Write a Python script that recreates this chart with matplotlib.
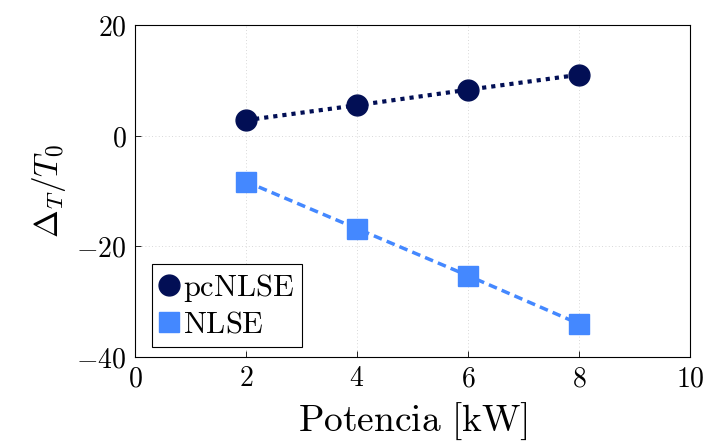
import matplotlib.pyplot as plt
import numpy as np

plt.rcParams['mathtext.fontset'] = 'cm'
plt.rcParams['font.family'] = 'serif'
plt.rcParams['font.serif'] = ['DejaVu Serif']

# datos
potencia = [2, 4, 6, 8]
pcnlse = [2.8, 5.5, 8.3, 11.0]
nlse = [-8.3, -16.8, -25.3, -34.0]

xticks = [0, 2, 4, 6, 8, 10]
yticks = [-40, -20, 0, 20]

fig = plt.figure(figsize=(7.12, 4.45), dpi=100)
ax = fig.add_axes([135 / 712, 1 - 357 / 445, 555 / 712, 332 / 445])

ax.plot(potencia, pcnlse, color='#020f55', linestyle=(0, (1, 1.2)), linewidth=3,
        marker='o', markersize=15, label='pcNLSE')
ax.plot(potencia, nlse, color='#4488ff', linestyle=(0, (2.5, 1.5)), linewidth=2.5,
        marker='s', markersize=14, label='NLSE')

ax.set_xlim(0, 10)
ax.set_ylim(-40, 20)
ax.set_xticks(xticks)
ax.set_yticks(yticks)
ax.set_xticklabels([f'${t}$' for t in xticks], fontsize=20)
ax.set_yticklabels([f'${t}$' for t in yticks], fontsize=20)
ax.tick_params(direction='in', length=4, width=0.6, pad=6)
ax.grid(True, linestyle=(0, (1, 3)), color='#cccccc', linewidth=0.6)
for s in ax.spines.values():
    s.set_linewidth(0.8)

ax.set_xlabel(r'$\mathrm{Potencia\ [kW]}$', fontsize=27, labelpad=6)
ax.set_ylabel(r'$\Delta_T/T_0$', fontsize=24, labelpad=6)

leg = ax.legend(loc='lower left', prop={'family': 'DejaVu Serif', 'size': 22},
                handlelength=0.6, handletextpad=0.15, borderpad=0.25, labelspacing=0.15,
                fancybox=False, edgecolor='black', framealpha=1, borderaxespad=0,
                bbox_to_anchor=(17 / 555, 10 / 332))
for h in leg.legend_handles:
    h.set_linestyle('none')
leg.get_frame().set_linewidth(0.8)
for t, lab in zip(leg.get_texts(), ['pcNLSE', 'NLSE']):
    t.set_text(r'$\mathrm{' + lab + '}$')

fig.savefig('out.png', dpi=100)
